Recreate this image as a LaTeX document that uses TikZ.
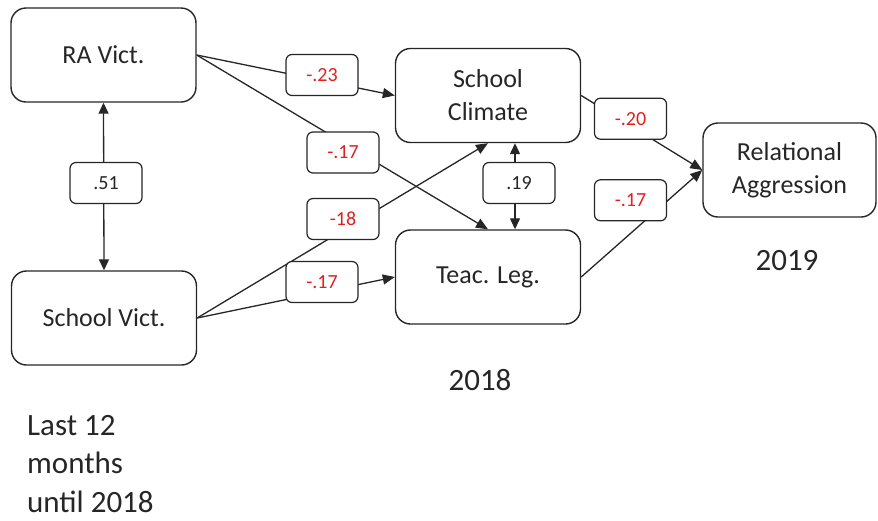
\documentclass[tikz,border=0pt]{standalone}
\usepackage{fontspec}
\setmainfont{Carlito}
\usetikzlibrary{arrows.meta}
\definecolor{myred}{RGB}{224,32,32}
\definecolor{mygray}{RGB}{38,38,38}

\tikzset{
  var/.style={draw=mygray, rounded corners=15pt, line width=1.4pt, minimum width=185pt,
    minimum height=94pt, align=center, text=mygray, font=\fontsize{26}{33}\selectfont},
  coef/.style={draw=mygray, fill=white, rounded corners=6pt, line width=1.2pt,
    minimum width=72pt, minimum height=41pt, text=myred, font=\fontsize{20}{24}\selectfont},
  path/.style={line width=1.3pt, draw=mygray, -{Triangle[length=12pt,width=10pt]}},
  cov/.style={line width=1.3pt, draw=mygray, {Triangle[length=11pt,width=10pt]}-{Triangle[length=11pt,width=10pt]}},
  year/.style={text=mygray, font=\fontsize{31}{38.5}\selectfont}
}

\begin{document}
\begin{tikzpicture}[x=1pt,y=-1pt]
\useasboundingbox (0,0) rectangle (878,520);

% variables
\node[var] (raV) at (103.5,55) {RA Vict.};
\node[var] (schV) at (104,318) {School Vict.};
\node[var] (clim) at (488,95.5) {School\\Climate};
\node[var] (teac) at (488,277) {Teac. Leg.};
\node[var, minimum width=173pt] (relA) at (789.5,170) {Relational\\Aggression};

% paths
\draw[path] (raV.east) -- (clim.west);
\draw[path] (raV.east) -- (teac.north);
\draw[path] (schV.east) -- (clim.south);
\draw[path] (schV.east) -- (teac.west);
\draw[path] (clim.east) -- (relA.west);
\draw[path] (teac.east) -- (relA.west);
\draw[cov] (raV.south) -- (schV.north);
\draw[cov] ([xshift=27pt]clim.south) -- ([xshift=27pt]teac.north);

% coefficients
\node[coef] (c1) at (322,75) {-.23};
\node[coef] (c2) at (343,152.5) {-.17};
\node[coef] (c3) at (343,219) {-18};
\node[coef] (c4) at (322,282) {-.17};
\node[coef, text=mygray] (c5) at (106,183) {.51};
\node[coef, text=mygray] (c6) at (519,183) {.19};
\node[coef] (c7) at (630.5,118.7) {-.20};
\node[coef] (c8) at (630.5,200.3) {-.17};

% waves
\node[year] (y18) at (480,380) {2018};
\node[year] (y19) at (787,261) {2019};
\node[year, align=left, anchor=north west, inner sep=0pt] (span) at (27,415) {Last 12\\months\\until 2018};
\end{tikzpicture}
\end{document}
